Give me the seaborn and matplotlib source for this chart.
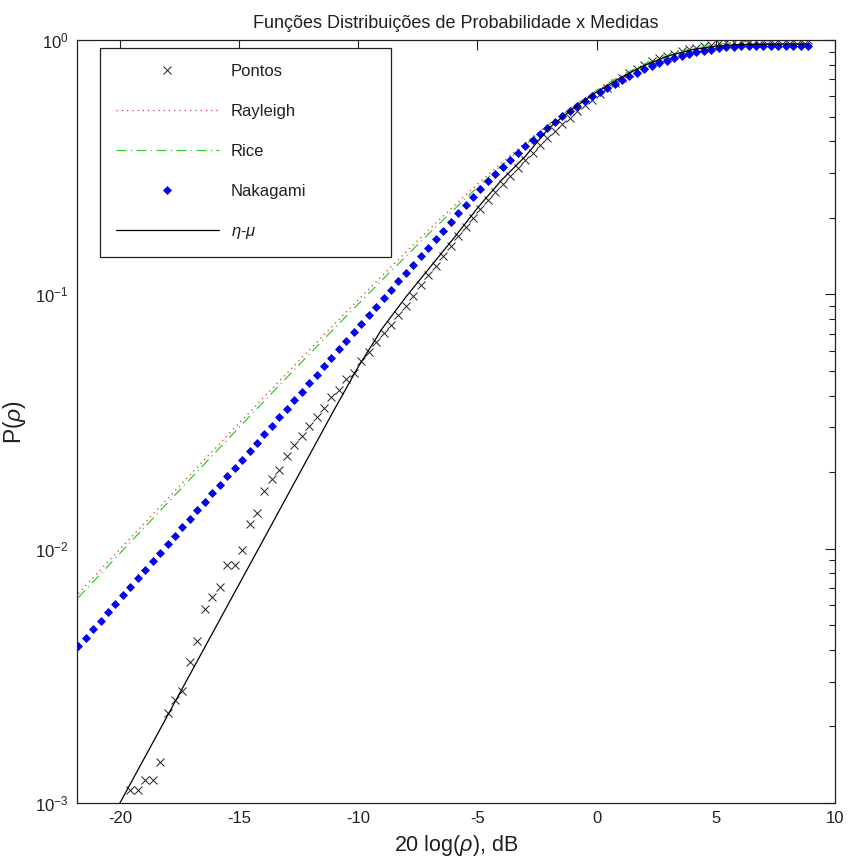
import numpy as np
import pandas as pd
import matplotlib
matplotlib.use("Agg")
import matplotlib.pyplot as plt
import seaborn as sns
from matplotlib.ticker import LogLocator, FixedLocator, NullFormatter, LogFormatterMathtext

# ---------------- data ----------------
# common sampling grid of the measured points / Nakagami markers (dB)
x_grid = np.linspace(-21.75, 8.875, 99)

nakagami_p = [
    0.004140, 0.004470, 0.004828, 0.005212, 0.005629, 0.006077, 0.006561, 0.007087,
    0.007650, 0.008262, 0.008924, 0.009632, 0.01040, 0.01123, 0.01213, 0.01310,
    0.01414, 0.01527, 0.01649, 0.01780, 0.01922, 0.02076, 0.02241, 0.02420,
    0.02614, 0.02821, 0.03047, 0.03290, 0.03552, 0.03836, 0.04142, 0.04472,
    0.04829, 0.05214, 0.05631, 0.06079, 0.06564, 0.07089, 0.07653, 0.08265,
    0.08925, 0.09636, 0.1041, 0.1124, 0.1213, 0.1310, 0.1414, 0.1528,
    0.1650, 0.1781, 0.1923,
    0.2089, 0.2250, 0.2420, 0.2599, 0.2784, 0.2978, 0.3178, 0.3386,
    0.3600, 0.3822, 0.4048, 0.4281, 0.4519, 0.4760, 0.5005, 0.5252,
    0.5502, 0.5752, 0.6003, 0.6251, 0.6499, 0.6743, 0.6982, 0.7217,
    0.7447, 0.7668, 0.7882, 0.8087, 0.8281, 0.8462, 0.8633, 0.8790,
    0.8933, 0.9062, 0.9175, 0.9271, 0.9350, 0.9414, 0.9458, 0.9487,
    0.950, 0.950, 0.950, 0.950, 0.950, 0.950, 0.950, 0.950,
]

pontos_p = [
    0.001125, 0.001125, 0.001230, 0.001230, 0.001449, 0.002259, 0.002541, 0.002754,
    0.003581, 0.004335, 0.005781, 0.006427, 0.007096, 0.008590, 0.008650, 0.009840,
    0.01250, 0.01377, 0.01690, 0.01879, 0.02037, 0.02312, 0.02553, 0.02773,
    0.03034, 0.03281, 0.03581, 0.03954, 0.04207, 0.04645, 0.04920, 0.05483,
    0.05916, 0.06516, 0.07031, 0.07568, 0.08299,
    0.09016, 0.09886, 0.1084, 0.1189, 0.1297, 0.1419, 0.1549, 0.1690,
    0.1837, 0.1995, 0.2163, 0.2344, 0.2529, 0.2723, 0.2931, 0.3148,
    0.3373, 0.3606, 0.3855, 0.4111, 0.4375, 0.4656, 0.4943, 0.5236,
    0.5534, 0.5834, 0.6152, 0.6457, 0.6776, 0.7096, 0.7413, 0.7709,
    0.7998, 0.8241, 0.8472, 0.8670, 0.8831, 0.9016, 0.9183, 0.9333,
    0.9462, 0.9594, 0.9705, 0.9795, 0.9863, 0.9908, 0.9931, 0.9954,
    0.9966, 0.9977, 0.9977, 0.9977, 0.9977, 0.9977, 0.9977,
]
pontos_x = x_grid[len(x_grid) - len(pontos_p):]

line_x = [-21.75, -21, -20, -19, -18, -17, -16, -15, -14, -13, -12, -11, -10, -9, -8,
          -7, -6, -5, -4, -3, -2, -1, 0, 1, 2, 3, 4, 5, 6, 7, 8, 8.875]
rayleigh_p = [0.006661, 0.007912, 0.00995, 0.01251, 0.01572, 0.01976, 0.02481, 0.03113,
              0.03903, 0.04888, 0.06115, 0.07636, 0.09516, 0.1183, 0.1466, 0.1809,
              0.2221, 0.2711, 0.3284, 0.3942, 0.4679, 0.5481, 0.6321, 0.7160,
              0.7951, 0.8640, 0.9189, 0.9577, 0.9813, 0.9933, 0.9982, 0.9996]
rice_p = [0.006415, 0.007619, 0.009582, 0.01205, 0.01514, 0.01902, 0.02389, 0.02998,
          0.03759, 0.04708, 0.05889, 0.07354, 0.09164, 0.1139, 0.1411, 0.1746,
          0.2150, 0.2635, 0.3208, 0.3875, 0.4632, 0.5465, 0.6340, 0.7232,
          0.8046, 0.8726, 0.9244, 0.9606, 0.9833, 0.9943, 0.9984, 0.9997]

etamu_x = [-20.25, -20, -19, -18, -17, -16, -15, -14, -13, -12, -11, -10, -9, -8, -7,
           -6, -5, -4, -3, -2, -1, 0, 1, 2, 3, 4, 5, 6, 7, 8, 8.875]
etamu_p = [0.0009016, 0.001000, 0.001486, 0.002208, 0.003281, 0.004875, 0.007244, 0.01076,
           0.01600, 0.02377, 0.03532, 0.05188, 0.07328, 0.09772, 0.1274, 0.1660,
           0.2183, 0.2805, 0.3483, 0.4508, 0.5370, 0.6237, 0.7112, 0.7943,
           0.8650, 0.9162, 0.9462, 0.9594, 0.9627, 0.9638, 0.9638]

x_ticks = [-20, -15, -10, -5, 0, 5, 10]
y_ticks = [1e-3, 1e-2, 1e-1, 1e0]

# ---------------- style ----------------
sns.set_theme(style="white")
plt.rcParams['font.family'] = ['Liberation Sans', 'DejaVu Sans']
plt.rcParams['mathtext.fontset'] = 'custom'
plt.rcParams['mathtext.rm'] = 'Liberation Sans'
plt.rcParams['mathtext.it'] = 'Liberation Sans:italic'
plt.rcParams['mathtext.default'] = 'regular'
plt.rcParams['axes.unicode_minus'] = False
for k in ['text.color', 'axes.labelcolor', 'xtick.color', 'ytick.color', 'axes.edgecolor']:
    plt.rcParams[k] = '#202020'

fig = plt.figure(figsize=(8.49, 8.57), dpi=100)
ax = fig.add_axes([77 / 849, 54 / 857, 758 / 849, 763 / 857])
ax.set_yscale('log')

sns.lineplot(x=pontos_x, y=pontos_p, ax=ax, marker='x', linestyle='none',
             color='#202020', markeredgecolor='#202020', markersize=5.5,
             markeredgewidth=0.7, label='Pontos', legend=False)
sns.lineplot(x=line_x, y=rayleigh_p, ax=ax, color='#e03030', linewidth=0.9,
             linestyle=(0, (1, 3.2)), label='Rayleigh', legend=False)
sns.lineplot(x=line_x, y=rice_p, ax=ax, color='#30cc30', linewidth=0.9,
             linestyle=(0, (8, 3.5, 1, 3.5)), label='Rice', legend=False)
sns.lineplot(x=x_grid, y=nakagami_p, ax=ax, marker='D', linestyle='none',
             color='#0000ee', markeredgecolor='#0000ee', markersize=4.2,
             markeredgewidth=0.5, label='Nakagami', legend=False)
sns.lineplot(x=etamu_x, y=etamu_p, ax=ax, color='black', linewidth=0.9,
             label='$\\it{η}$-$\\it{μ}$', legend=False)

ax.set_xlim(-21.8, 10)
ax.set_ylim(1e-3, 1)
ax.set_xticks(x_ticks)
ax.yaxis.set_major_locator(FixedLocator(y_ticks))
ax.yaxis.set_major_formatter(LogFormatterMathtext())
ax.yaxis.set_minor_locator(LogLocator(base=10, subs=np.arange(2, 10)))
ax.yaxis.set_minor_formatter(NullFormatter())
ax.tick_params(which='both', direction='in', top=True, right=True, width=0.8)
ax.tick_params(which='major', length=7, labelsize=12, pad=6)
ax.tick_params(which='minor', length=4)
for s in ax.spines.values():
    s.set_linewidth(0.9)
    s.set_color('#202020')

ax.set_title('Funções Distribuições de Probabilidade x Medidas', fontsize=13, pad=9)
ax.set_xlabel('20 log($\\it{ρ}$), dB', fontsize=15.5, labelpad=5)
ax.set_ylabel('P($\\it{ρ}$)', fontsize=16.5, labelpad=5)

leg = ax.legend(loc='upper left', bbox_to_anchor=(0.0303, 0.0, 0.384, 0.9895),
                mode='expand', borderaxespad=0, fontsize=12, numpoints=1,
                handlelength=6.2, handletextpad=0.7, labelspacing=1.5,
                borderpad=0.95, fancybox=False, framealpha=1, shadow=False)
leg.get_frame().set_edgecolor('#202020')
leg.get_frame().set_linewidth(0.9)

fig.savefig('out.png', dpi=100)
